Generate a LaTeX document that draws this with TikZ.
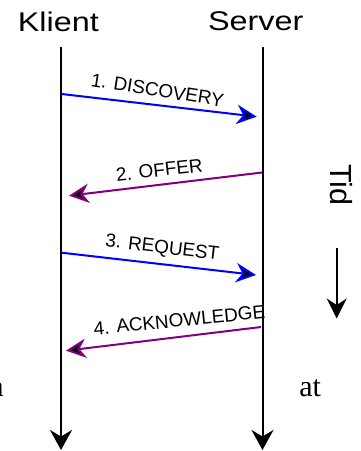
\documentclass[tikz,border=0pt]{standalone}
\usepackage{fontspec}
\setmainfont{Liberation Sans}
\newfontfamily\serifface{Liberation Serif}
\usetikzlibrary{arrows.meta}
\definecolor{msgblue}{RGB}{0,0,255}
\definecolor{msgpurple}{RGB}{128,0,128}
\begin{document}
\begin{tikzpicture}[x=0.75pt,y=-0.75pt,
  lifeline/.style={line width=1.5pt, -{Stealth[length=15pt,width=16.5pt]}},
  msgarrow/.style={line width=1.5pt, -{Stealth[length=15pt,width=14.5pt,fill=black]}},
  request/.style={msgarrow, draw=msgblue},
  reply/.style={msgarrow, draw=msgpurple},
  head/.style={font=\fontsize{20.25}{24}\selectfont, xscale=1.2, anchor=base, inner sep=0pt},
  msglabel/.style={font=\fontsize{14.2}{17}\selectfont, anchor=base, inner sep=0pt},
  timelabel/.style={font=\fontsize{22.9}{27}\selectfont, anchor=base, inner sep=0pt, rotate=-90},
  pagetext/.style={font=\serifface\fontsize{22.5}{27}\selectfont, inner sep=0pt}]
\useasboundingbox (0,0) rectangle (361,451);

% participants
\node[head] (klient) at (58.3,31) {Klient};
\node[head] (server) at (255.8,30.7) {Server};

% lifelines
\coordinate (ktop) at (61,46.7);
\coordinate (kbot) at (61,450);
\coordinate (stop) at (262.5,46.7);
\coordinate (sbot) at (262.5,450);
\draw[lifeline] (ktop) -- (kbot);
\draw[lifeline] (stop) -- (sbot);

% message end points
\coordinate (k1) at (61.7,94);    \coordinate (s1) at (256.7,116.7);
\coordinate (s2) at (262,172.5);  \coordinate (k2) at (69,195.7);
\coordinate (k3) at (61.7,252.7); \coordinate (s3) at (256,275);
\coordinate (s4) at (261,327);    \coordinate (k4) at (66,350.7);

% messages
\draw[request] (k1) -- (s1);
\draw[reply]   (s2) -- (k2);
\draw[request] (k3) -- (s3);
\draw[reply]   (s4) -- (k4);

% message labels
\node[msglabel, rotate=-8.9] (l1) at (156.5,96.6) {1. DISCOVERY};
\node[msglabel, rotate=6.4]  (l2) at (160,176.4) {2. OFFER};
\node[msglabel, rotate=-6.7] (l3) at (161.7,253.3) {3. REQUEST};
\node[msglabel, rotate=5.6]  (l4) at (180,326.7) {4. ACKNOWLEDGE};

% time axis
\node[timelabel] (tid) at (330,185) {Tid};
\coordinate (ttop) at (336.7,247.5);
\coordinate (tbot) at (336.7,318.5);
\draw[line width=1.5pt, -{Stealth[length=15pt,width=15pt]}] (ttop) -- (tbot);

% surrounding page text
\node[pagetext, anchor=base east] (pa) at (4,396.7) {a};
\node[pagetext, anchor=base west] (pat) at (299,396.7) {at};
\end{tikzpicture}
\end{document}
